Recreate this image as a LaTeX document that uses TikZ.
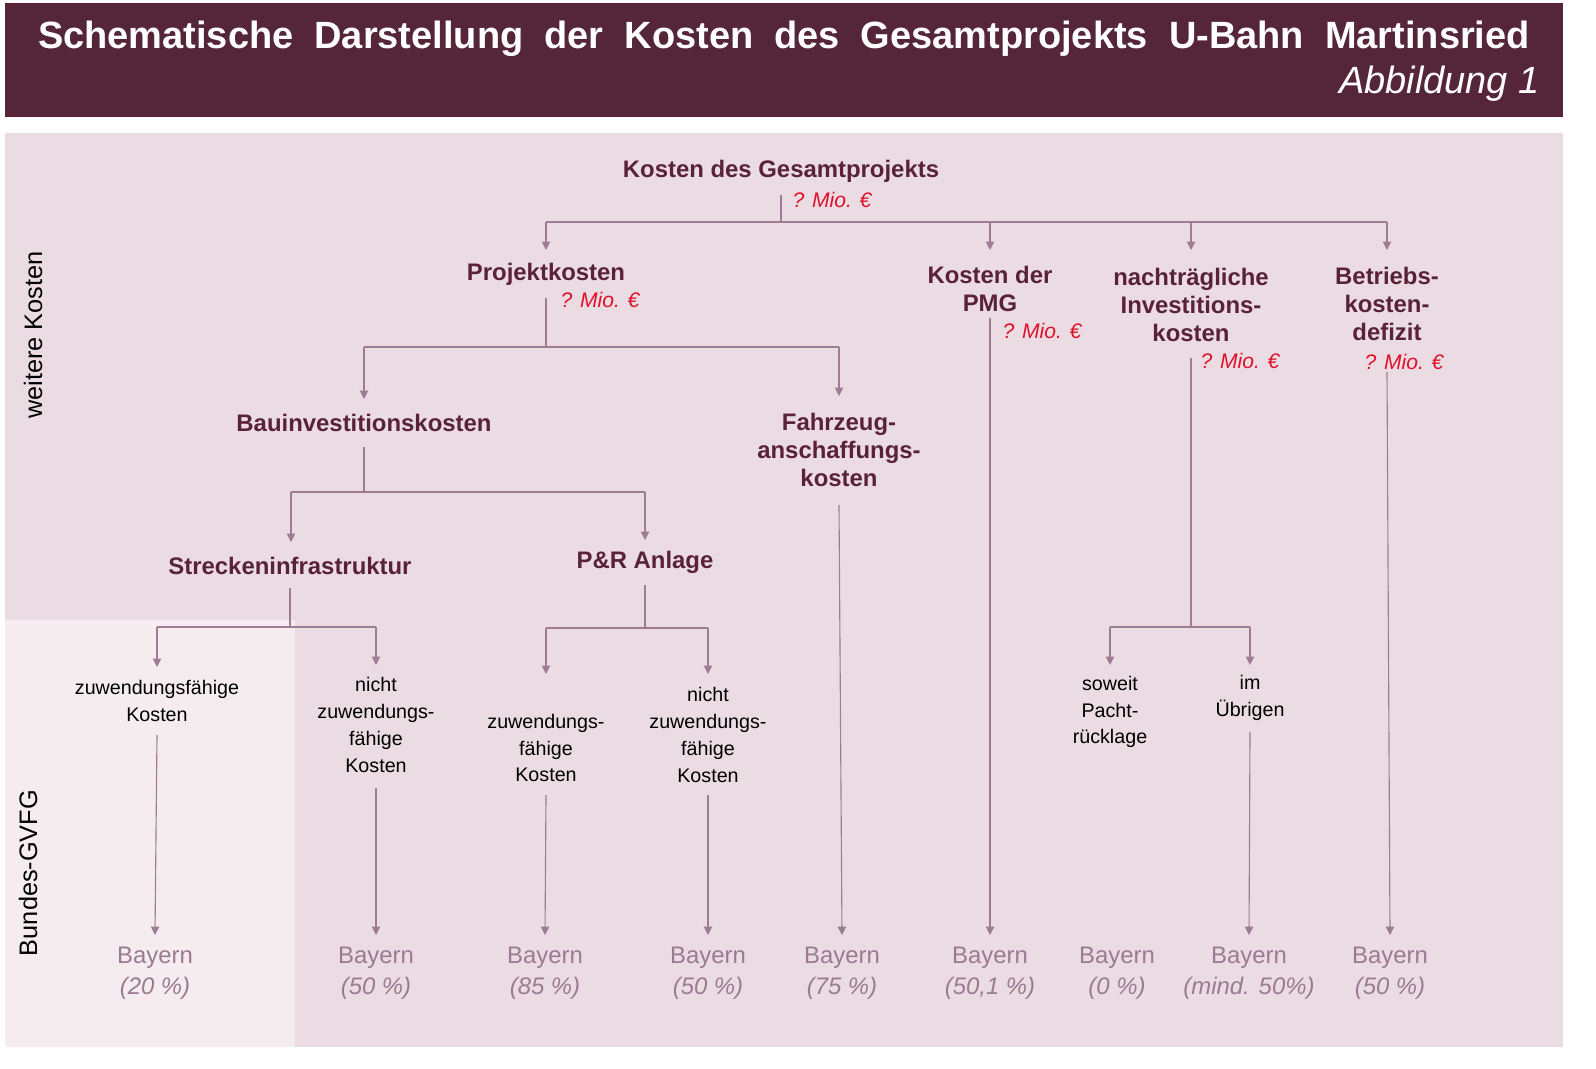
\documentclass[tikz,border=0pt]{standalone}
\usepackage{fontspec}
\setmainfont{Liberation Sans}
\usetikzlibrary{arrows.meta}
\definecolor{maroon}{HTML}{55253A}
\definecolor{head}{HTML}{5A2238}
\definecolor{panel}{HTML}{EBDCE3}
\definecolor{light}{HTML}{F5ECF0}
\definecolor{redq}{HTML}{E0102A}
\definecolor{bay}{HTML}{9B7A92}
\definecolor{lin}{HTML}{9E7C94}
\begin{document}
\begin{tikzpicture}[x=0.025cm,y=-0.025cm,
 hd/.style={font=\fontsize{17}{20}\selectfont\bfseries,text=head,align=center,inner sep=0pt},
 q/.style={font=\fontsize{15}{18}\selectfont\itshape,text=redq,inner sep=0pt},
 leaf/.style={font=\fontsize{14}{19}\selectfont,text=black,align=center,inner sep=0pt},
 bay/.style={font=\fontsize{17}{22}\selectfont,text=bay,align=center,inner sep=0pt},
 ln/.style={draw=lin,line width=0.8pt},
 ar/.style={ln,-{Triangle[length=6pt,width=6pt]}}]
\fill[white] (0,0) rectangle (1596,1069);
\useasboundingbox (0,0) rectangle (1596,1069);
\fill[maroon] (5,3) rectangle (1563,117);
\fill[panel] (5,133) rectangle (1563,1047);
\fill[light] (5,620) rectangle (295,1047);
\node[font=\fontsize{27}{30}\selectfont\bfseries,text=white,inner sep=0pt] (title) at (784,39) {Schematische\ \ Darstellung\ \ der\ \ Kosten\ \ des\ \ Gesamtprojekts\ \ U-Bahn\ \ Martinsried};
\node[font=\fontsize{27}{30}\selectfont\itshape,text=white,anchor=east,inner sep=0pt] (abb) at (1540,84) {Abbildung 1};
\node[rotate=90,font=\fontsize{18}{20}\selectfont,inner sep=0pt] (wk) at (33,335) {weitere Kosten};
\node[rotate=90,font=\fontsize{18}{20}\selectfont,inner sep=0pt] (bg) at (28,873) {Bundes-GVFG};
\node[hd] (gp) at (781,171) {Kosten des Gesamtprojekts};
\node[q] (gpq) at (832,200) {? Mio. €};
\node[hd] (pk) at (546,274) {Projektkosten};
\node[q] (pkq) at (600,300) {? Mio. €};
\node[hd] (pmg) at (990,289) {Kosten der\\PMG};
\node[q] (pmgq) at (1042,331) {? Mio. €};
\node[hd] (ni) at (1191,305) {nachträgliche\\Investitions-\\kosten};
\node[q] (niq) at (1240,361) {? Mio. €};
\node[hd] (bk) at (1387,304) {Betriebs-\\kosten-\\defizit};
\node[q] (bkq) at (1404,362) {? Mio. €};
\node[hd] (bi) at (364,423) {Bauinvestitionskosten};
\node[hd] (fz) at (839,450) {Fahrzeug-\\anschaffungs-\\kosten};
\node[hd] (si) at (290,566) {Streckeninfrastruktur};
\node[hd] (pr) at (645,562) {P\&R Anlage};
\node[leaf] (l1) at (157,701) {zuwendungsfähige\\Kosten};
\node[leaf] (l2) at (376,725) {nicht\\zuwendungs-\\fähige\\Kosten};
\node[leaf] (l3) at (546,748) {zuwendungs-\\fähige\\Kosten};
\node[leaf] (l4) at (708,735) {nicht\\zuwendungs-\\fähige\\Kosten};
\node[leaf] (l5) at (1110,712) {soweit\\Pacht-\\rücklage};
\node[leaf] (l6) at (1250,698) {im\\Übrigen};
\foreach \n/\x/\p in {b1/155/20 \%,b2/376/50 \%,b3/545/85 \%,b4/708/50 \%,b5/842/75 \%,b6/990/{50,1 \%},b7/1117/0 \%,b8/1249/mind. 50\%,b9/1390/50 \%}
  \node[bay] (\n) at (\x,973) {Bayern\\\textit{(\p)}};
\coordinate (j0) at (781,222);
\coordinate (j1) at (546,347);
\coordinate (j2) at (364,492);
\coordinate (j3) at (290,627);
\coordinate (j4) at (645,628);
\coordinate (j5) at (1191,627);
\draw[ln] (781,195) -- (j0);
\draw[ln] (546,222) -- (1387,222);
\foreach \x in {546,990,1191,1387} \draw[ar] (\x,222) -- (\x,250);
\draw[ln] (546,298) -- (j1);
\draw[ln] (364,347) -- (839,347);
\draw[ar] (364,347) -- (364,399);
\draw[ar] (839,347) -- (839,396);
\draw[ln] (364,447) -- (j2);
\draw[ln] (291,492) -- (645,492);
\draw[ar] (291,492) -- (291,542);
\draw[ar] (645,492) -- (645,540);
\draw[ln] (290,588) -- (j3);
\draw[ln] (157,627) -- (376,627);
\draw[ar] (157,627) -- (157,667);
\draw[ar] (376,627) -- (376,665);
\draw[ln] (645,585) -- (j4);
\draw[ln] (546,628) -- (708,628);
\draw[ar] (546,628) -- (546,674);
\draw[ar] (708,628) -- (708,674);
\draw[ln] (1191,358) -- (j5);
\draw[ln] (1110,627) -- (1250,627);
\draw[ar] (1110,627) -- (1110,665);
\draw[ar] (1250,627) -- (1250,665);
\draw[ar] (157,735) -- (155,935);
\draw[ar] (376,788) -- (376,935);
\draw[ar] (546,795) -- (545,935);
\draw[ar] (708,795) -- (708,935);
\draw[ar] (839,505) -- (842,935);
\draw[ar] (990,318) -- (990,935);
\draw[ar] (1250,732) -- (1249,935);
\draw[ar] (1387,372) -- (1390,935);
\end{tikzpicture}
\end{document}
